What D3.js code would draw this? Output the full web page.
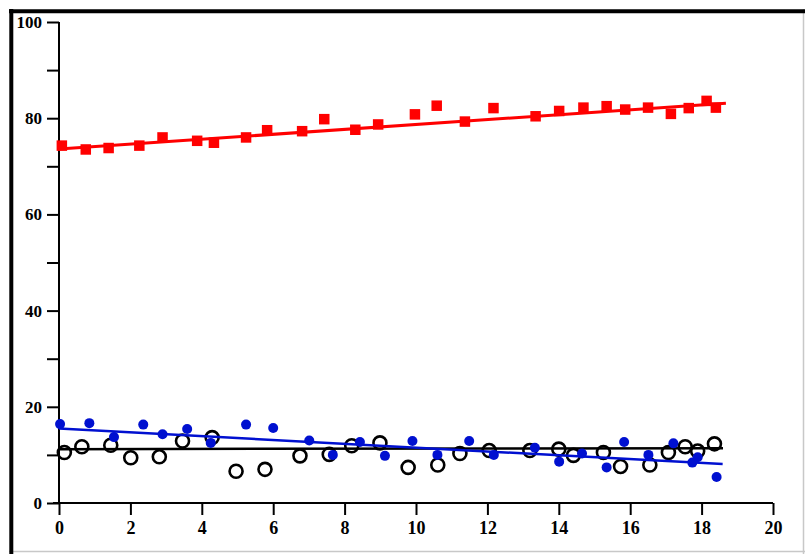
<!DOCTYPE html>
<html>
<head>
<meta charset="utf-8">
<script src="https://cdn.jsdelivr.net/npm/d3@7"></script>
<style>
  html, body { margin: 0; padding: 0; background: #fff; }
  svg { display: block; }
  .ylab { font: bold 17px "Liberation Serif", "DejaVu Serif", serif; }
  .xlab { font: bold 18px "Liberation Serif", "DejaVu Serif", serif; }
</style>
</head>
<body>
<svg id="chart" width="805" height="554"></svg>
<script>
// ---- data ----
const redX   = [0.08,0.75,1.39,2.25,2.90,3.87,4.34,5.24,5.83,6.81,7.43,8.30,8.94,9.97,10.58,11.37,12.17,13.35,14.01,14.69,15.34,15.86,16.50,17.14,17.64,18.14,18.40];
const redY   = [74.3,73.5,73.8,74.3,76.0,75.3,74.9,76.0,77.5,77.3,79.8,77.6,78.7,80.8,82.6,79.3,82.1,80.4,81.5,82.2,82.5,81.8,82.2,80.9,82.1,83.6,82.2];
const blueX  = [0.03,0.85,1.54,2.36,2.90,3.59,4.25,5.24,6.00,7.01,7.67,8.43,9.13,9.90,10.60,11.49,12.18,13.33,14.01,14.65,15.34,15.83,16.51,17.21,17.74,17.89,18.42];
const blueY  = [16.4,16.6,13.7,16.3,14.3,15.4,12.5,16.3,15.6,13.0,10.0,12.7,9.8,12.9,10.0,12.9,10.0,11.5,8.6,10.3,7.4,12.7,10.0,12.4,8.4,9.5,5.4];
const blackX = [0.15,0.64,1.45,2.01,2.81,3.46,4.29,4.96,5.77,6.75,7.57,8.20,8.99,9.78,10.61,11.23,12.05,13.19,14.00,14.41,15.25,15.73,16.55,17.07,17.54,17.89,18.36];
const blackY = [10.5,11.7,12.0,9.4,9.6,12.9,13.6,6.6,7.0,9.8,10.1,11.9,12.5,7.4,7.9,10.3,10.9,10.9,11.2,9.9,10.5,7.6,7.9,10.5,11.7,10.8,12.3];
// fitted trend lines: [x0, y0, x1, y1]
const redFit   = [0, 73.6, 18.68, 83.1];
const blueFit  = [0, 15.5, 18.59, 8.1];
const blackFit = [0, 11.2, 18.60, 11.4];
// ticks
const xTicks = [0,2,4,6,8,10,12,14,16,18,20];
const yTicks = [0,10,20,30,40,50,60,70,80,90,100];
const yLabelled = [0,20,40,60,80,100];

const svg = d3.select("#chart");

// frame
svg.append("line").attr("x1",9).attr("y1",551.5).attr("x2",805).attr("y2",551.5).attr("stroke","#c8c8c8").attr("stroke-width",1.5);
svg.append("line").attr("x1",803.5).attr("y1",9).attr("x2",803.5).attr("y2",554).attr("stroke","#c8c8c8").attr("stroke-width",1.5);
svg.append("line").attr("x1",9).attr("y1",11.3).attr("x2",805).attr("y2",11.3).attr("stroke","#000").attr("stroke-width",4);
svg.append("line").attr("x1",11.3).attr("y1",9).attr("x2",11.3).attr("y2",554).attr("stroke","#000").attr("stroke-width",4);

const x = d3.scaleLinear().domain([0,20]).range([59,773]);
const y = d3.scaleLinear().domain([0,100]).range([503,22]);

// axes
const yAxis = d3.axisLeft(y).tickValues(yTicks).tickSize(12).tickSizeOuter(0).tickPadding(5)
  .tickFormat(d => yLabelled.includes(d) ? d : "");
const gy = svg.append("g").attr("transform",`translate(${x(0)},0)`).call(yAxis);
gy.select(".domain").remove();
gy.selectAll(".tick line").attr("stroke","#000").attr("stroke-width",2);
gy.selectAll(".tick text").attr("class","ylab").attr("fill","#000");

const xAxis = d3.axisBottom(x).tickValues(xTicks).tickSize(12).tickSizeOuter(0).tickPadding(6);
const gx = svg.append("g").attr("transform",`translate(0,${y(0)})`).call(xAxis);
gx.select(".domain").remove();
gx.selectAll(".tick line").attr("stroke","#000").attr("stroke-width",2);
gx.selectAll(".tick text").attr("class","xlab").attr("fill","#000");

// axis lines
svg.append("line").attr("x1",x(0)).attr("x2",x(0)).attr("y1",y(100)).attr("y2",y(0)).attr("stroke","#000").attr("stroke-width",2);
svg.append("line").attr("x1",x(0)-6).attr("x2",x(20)).attr("y1",y(0)).attr("y2",y(0)).attr("stroke","#000").attr("stroke-width",2);

function fitLine(f, color, w) {
  svg.append("line").attr("x1",x(f[0])).attr("y1",y(f[1])).attr("x2",x(f[2])).attr("y2",y(f[3]))
    .attr("stroke",color).attr("stroke-width",w);
}

// black series
fitLine(blackFit, "#000", 2.5);
svg.append("g").selectAll("circle").data(d3.range(blackX.length)).join("circle")
  .attr("cx", i => x(blackX[i])).attr("cy", i => y(blackY[i])).attr("r", 6.5)
  .attr("fill","none").attr("stroke","#000").attr("stroke-width",2.6);

// blue series
const blue = "#0010d0";
fitLine(blueFit, blue, 2.5);
svg.append("g").selectAll("circle").data(d3.range(blueX.length)).join("circle")
  .attr("cx", i => x(blueX[i])).attr("cy", i => y(blueY[i])).attr("r", 5)
  .attr("fill", blue);

// red series
const red = "#ff0000";
fitLine(redFit, red, 3);
const s = 10.5;
svg.append("g").selectAll("rect").data(d3.range(redX.length)).join("rect")
  .attr("x", i => x(redX[i]) - s/2).attr("y", i => y(redY[i]) - s/2)
  .attr("width", s).attr("height", s).attr("fill", red);
</script>
</body>
</html>
